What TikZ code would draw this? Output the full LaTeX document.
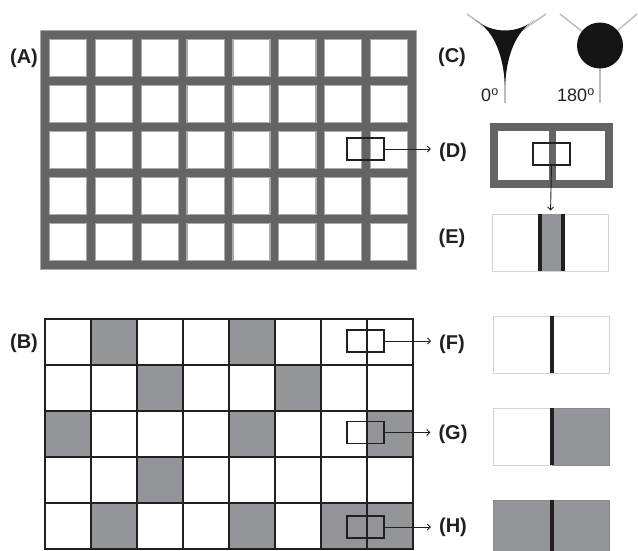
\documentclass[tikz,border=0pt]{standalone}
\usepackage{fontspec}
\setmainfont{Liberation Sans}
\usetikzlibrary{arrows.meta}
\definecolor{gridgray}{HTML}{646466}
\definecolor{cellgray}{HTML}{939598}
\definecolor{ink}{HTML}{231F20}
\definecolor{lightedge}{HTML}{D3D3D3}
\definecolor{stemgray}{HTML}{BDBDBD}
\definecolor{celledge}{HTML}{88898B}
\begin{document}
\begin{tikzpicture}[x=1pt,y=-1pt,
  lab/.style={font=\fontsize{20}{20}\selectfont\bfseries, inner sep=0pt, text=ink},
  deg/.style={font=\fontsize{18}{18}\selectfont, inner sep=0pt, text=ink},
  zoombox/.style={draw=ink, line width=1.3pt, minimum width=37pt, minimum height=22pt, inner sep=0pt},
  callout/.style={draw=ink, line width=0.9pt, -{Straight Barb[length=3pt,width=6pt]}},
  gridhalo/.style={draw=gridgray!55, line width=10pt},
  gridline/.style={draw=gridgray, line width=7.5pt},
  bline/.style={draw=ink, line width=1.5pt},
  panel/.style={draw=lightedge, line width=1pt, minimum width=116pt, minimum height=57pt, inner sep=0pt},
  stem/.style={draw=stemgray, line width=1.5pt},
]
\useasboundingbox (0,0) rectangle (638,551);

% ---------- grid (A) ----------
\foreach \i in {0,...,8} \draw[gridhalo] ({45+45.875*\i},31) -- ({45+45.875*\i},269);
\foreach \j in {0,...,5} \draw[gridhalo] (40,{35+46*\j}) -- (417,{35+46*\j});
\foreach \i in {0,...,8} \draw[gridline] ({45+45.875*\i},31.5) -- ({45+45.875*\i},268.5);
\foreach \j in {0,...,5} \draw[gridline] (41,{35+46*\j}) -- (416,{35+46*\j});

% ---------- grid (B) ----------
\foreach \c/\r in {2/1,5/1,3/2,6/2,1/3,5/3,8/3,3/4,2/5,5/5,7/5,8/5}
  \fill[cellgray] ({45+46*(\c-1)},{319+46*(\r-1)}) rectangle ++(46,46);
\foreach \i in {0,...,8} \draw[bline] ({45+46*\i},318.25) -- ({45+46*\i},549.75);
\foreach \j in {0,...,5} \draw[bline] (45,{319+46*\j}) -- (413,{319+46*\j});

% ---------- labels ----------
\node[lab] (labA) at (24,58) {(A)};
\node[lab] (labB) at (24,343) {(B)};
\node[lab] (labC) at (452,57) {(C)};
\node[lab] (labD) at (453,152) {(D)};
\node[lab] (labE) at (452,238) {(E)};
\node[lab] (labF) at (452,344) {(F)};
\node[lab] (labG) at (453,434) {(G)};
\node[lab] (labH) at (453,527) {(H)};

% ---------- zoom boxes and call-outs ----------
\node[zoombox] (rA) at (365.5,149) {};
\node[zoombox] (rF) at (365.5,341) {};
\node[zoombox] (rG) at (365.5,432.5) {};
\node[zoombox] (rH) at (365.5,527) {};
\draw[callout, shorten >=8pt] (rA.east) -- (rA.east -| labD.west);
\draw[callout, shorten >=8pt] (rF.east) -- (rF.east -| labF.west);
\draw[callout, shorten >=8pt] (rG.east) -- (rG.east -| labG.west);
\draw[callout, shorten >=8pt] (rH.east) -- (rH.east -| labH.west);

% ---------- (C) junction shapes ----------
\draw[stem] (467,14) -- (505,42) -- (546,14);
\draw[stem] (505,42) -- (505,103);
\fill[black!92] (476,20) .. controls (492,34) and (518,34) .. (534,20)
  .. controls (515,33) and (507,55) .. (505,85)
  .. controls (503,55) and (495,33) .. (476,20) -- cycle;
\draw[stem] (560,14) -- (600,45.5) -- (637,14);
\draw[stem] (600,45.5) -- (600,103);
\fill[black!92] (600,45.5) circle (23);
\node[deg] (d0) at (490,95) {0\textsuperscript{o}};
\node[deg] (d180) at (576,95) {180\textsuperscript{o}};

% ---------- (D) ----------
\node[draw=gridgray, line width=8pt, minimum width=115pt, minimum height=57pt, inner sep=0pt] (boxD) at (551.5,155.5) {};
\draw[gridgray, line width=7pt] (552,123) -- (552,188);
\node[zoombox] (rD) at (551.5,154) {};

% ---------- (E) ----------
\node[panel] (boxE) at (550.5,242.5) {};
\fill[cellgray] (538,214) rectangle (565,271);
\fill[ink] (538,214) rectangle (542,271);
\fill[ink] (561,214) rectangle (565,271);
\draw[callout, shorten >=3pt] (rD.south) -- (boxE.north);

% ---------- (F) ----------
\node[panel] (boxF) at (551,344.5) {};
\fill[ink] (549.5,316) rectangle (553.5,373);

% ---------- (G) ----------
\node[panel] (boxG) at (551,436.5) {};
\filldraw[fill=cellgray, draw=celledge, line width=1pt] (552,408) rectangle (609.5,465);
\fill[ink] (550,408) rectangle (554,465);

% ---------- (H) ----------
\node[panel, fill=cellgray, draw=celledge, minimum height=52pt] (boxH) at (551,526) {};
\fill[ink] (550,500) rectangle (554,551);
\end{tikzpicture}
\end{document}
